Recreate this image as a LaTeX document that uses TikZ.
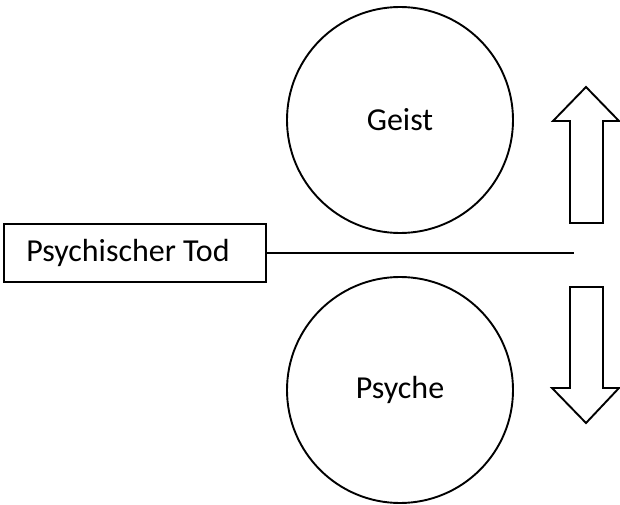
\documentclass[tikz,border=0pt]{standalone}
\usepackage{fontspec}
\setmainfont{Carlito}
\begin{document}
\begin{tikzpicture}[x=1pt,y=-1pt,line width=1.9pt,
  circ/.style={draw,circle,minimum size=226pt,inner sep=0pt,font=\fontsize{32}{38}\selectfont},
  labelbox/.style={draw,rectangle,minimum width=262pt,minimum height=58pt,inner sep=0pt,font=\fontsize{32}{38}\selectfont},
  blockarrow/.style={draw,fill=white,line join=miter}]
\useasboundingbox (0,0) rectangle (620,505);
\node[circ] (geist) at (400,120) {Geist};
\node[circ] (psyche) at (400,390) {Psyche};
\node[labelbox] (tod) at (135,253) {\hspace*{-14pt}Psychischer Tod};
\coordinate (lineend) at (574,253);
\draw (tod.east) -- (lineend);
\draw[blockarrow] (570,223) -- (570,121) -- (553,121) -- (586,87) -- (619,121) -- (603,121) -- (603,223) -- cycle;
\draw[blockarrow] (570,287) -- (603,287) -- (603,388) -- (619,388) -- (586,423) -- (552,388) -- (570,388) -- cycle;
\end{tikzpicture}
\end{document}
